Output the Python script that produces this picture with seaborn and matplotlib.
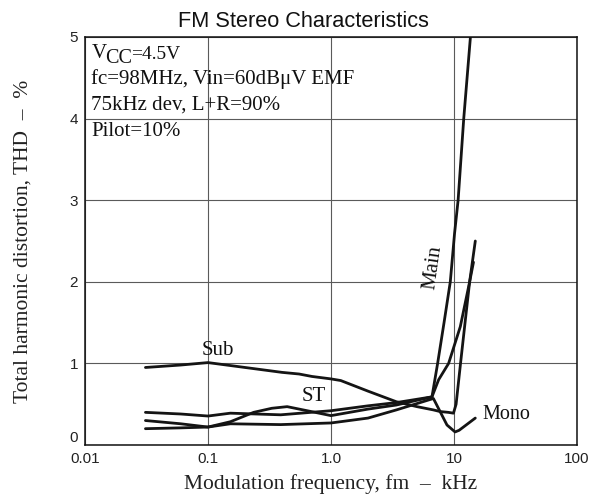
import matplotlib
matplotlib.use("Agg")
import matplotlib.pyplot as plt
import seaborn as sns
import pandas as pd

# frequency (kHz) / THD (%)
sub_f = [0.031, 0.06, 0.1, 0.2, 0.4, 0.55, 0.7, 1.0, 1.2, 2.0, 3.4, 5.0, 6.8, 7.7, 9.0, 9.9, 10.4, 11.3, 12.3, 13.4, 14.9]
sub_thd = [0.95, 0.98, 1.01, 0.95, 0.89, 0.87, 0.84, 0.81, 0.79, 0.66, 0.53, 0.47, 0.43, 0.41, 0.40, 0.39, 0.50, 1.00, 1.50, 2.00, 2.50]

main_f = [0.031, 0.06, 0.1, 0.152, 0.235, 0.33, 0.44, 0.64, 1.0, 2.0, 3.4, 6.62, 7.36, 8.3, 9.33, 10.1, 10.8, 12.0, 13.6]
main_thd = [0.30, 0.26, 0.22, 0.285, 0.40, 0.45, 0.47, 0.42, 0.36, 0.44, 0.49, 0.59, 1.00, 1.50, 2.00, 2.59, 3.00, 4.00, 5.00]

st_f = [0.031, 0.06, 0.1, 0.152, 0.39, 1.0, 2.0, 3.4, 6.62, 7.5, 9.04, 11.25, 13.4, 14.4]
st_thd = [0.40, 0.38, 0.355, 0.39, 0.37, 0.42, 0.48, 0.52, 0.59, 0.80, 1.00, 1.45, 2.00, 2.24]

mono_f = [0.031, 0.06, 0.1, 0.152, 0.39, 1.0, 2.0, 3.4, 6.8, 8.77, 10.2, 11.0, 14.9]
mono_thd = [0.20, 0.21, 0.22, 0.26, 0.25, 0.27, 0.33, 0.43, 0.57, 0.245, 0.16, 0.18, 0.33]

x_ticks = [0.01, 0.1, 1.0, 10, 100]
x_ticklabels = ["0.01", "0.1", "1.0", "10", "100"]
y_ticks = [0, 1, 2, 3, 4, 5]

curves = pd.concat([
    pd.DataFrame({"f": sub_f, "thd": sub_thd, "curve": "Sub"}),
    pd.DataFrame({"f": main_f, "thd": main_thd, "curve": "Main"}),
    pd.DataFrame({"f": st_f, "thd": st_thd, "curve": "ST"}),
    pd.DataFrame({"f": mono_f, "thd": mono_thd, "curve": "Mono"}),
])

sns.set_theme(style="white")
plt.rcParams["font.family"] = ["Liberation Serif", "DejaVu Serif"]

fig = plt.figure(figsize=(6.0, 4.97), dpi=100)
ax = fig.add_axes([85 / 600, 1 - 445 / 497, 492 / 600, 408 / 497])

for name, grp in curves.groupby("curve", sort=False):
    sns.lineplot(data=grp, x="f", y="thd", ax=ax, color="#141414", lw=2.0,
                 estimator=None, sort=False, legend=False)

ax.set_xscale("log")
ax.set_xlim(0.01, 100)
ax.set_ylim(0, 5)
ax.set_xticks(x_ticks)
ax.set_xticklabels(x_ticklabels)
ax.set_yticks(y_ticks)
ax.minorticks_off()
ax.tick_params(length=0, pad=5, labelsize=11, labelcolor="#222222")
for lab in ax.get_xticklabels() + ax.get_yticklabels():
    lab.set_family(["Liberation Sans", "DejaVu Sans"])
# the "0" sits a bit above the axis line so it clears "0.01"
ax.get_yticklabels()[0].set_verticalalignment("bottom")
ax.grid(True, which="major", color="#5a5a5a", lw=0.8)
for sp in ax.spines.values():
    sp.set_color("#111111")
    sp.set_linewidth(1.1)

ax.set_xlabel("Modulation frequency, fm  \u2013  kHz", fontsize=15.5, labelpad=6, color="#222222")
ax.set_ylabel("Total harmonic distortion, THD  \u2013  %", fontsize=15.5, labelpad=27, color="#222222")

fig.text(0.505, 1 - 27 / 497, "FM Stereo Characteristics", ha="center", va="baseline",
         fontsize=15.7, family=["Liberation Sans", "DejaVu Sans"], color="#111111")

# condition block, top left
fs = 15
tkw = dict(transform=ax.transAxes, fontsize=fs, va="baseline", ha="left", color="#111111")
v = ax.text(0.013, 0.948, "V", **tkw)
cc = ax.annotate("CC", xy=(1, 0), xycoords=v, xytext=(-1, -5), textcoords="offset pixels",
                 fontsize=fs - 0.5, va="bottom", ha="left", color="#111111")
ax.annotate("=4.5V", xy=(1, 0), xycoords=cc, xytext=(-1, 5), textcoords="offset pixels",
            fontsize=fs - 1, va="bottom", ha="left", color="#111111")
ax.text(0.013, 0.885, "fc=98MHz, Vin=60dB\u03bcV EMF", **tkw)
ax.text(0.013, 0.821, "75kHz dev, L+R=90%", **tkw)
ax.text(0.013, 0.757, "Pilot=10%", **tkw)

# curve labels
lkw = dict(fontsize=15, color="#111111")
ax.text(0.121, 1.16, "Sub", ha="center", va="center", **lkw)
ax.text(0.718, 0.59, "ST", ha="center", va="center", **lkw)
ax.text(6.7, 2.17, "Main", ha="center", va="center", rotation=82, **lkw)
ax.text(17.0, 0.37, "Mono", ha="left", va="center", fontsize=14.5, color="#111111")

fig.savefig("out.png", dpi=100)
